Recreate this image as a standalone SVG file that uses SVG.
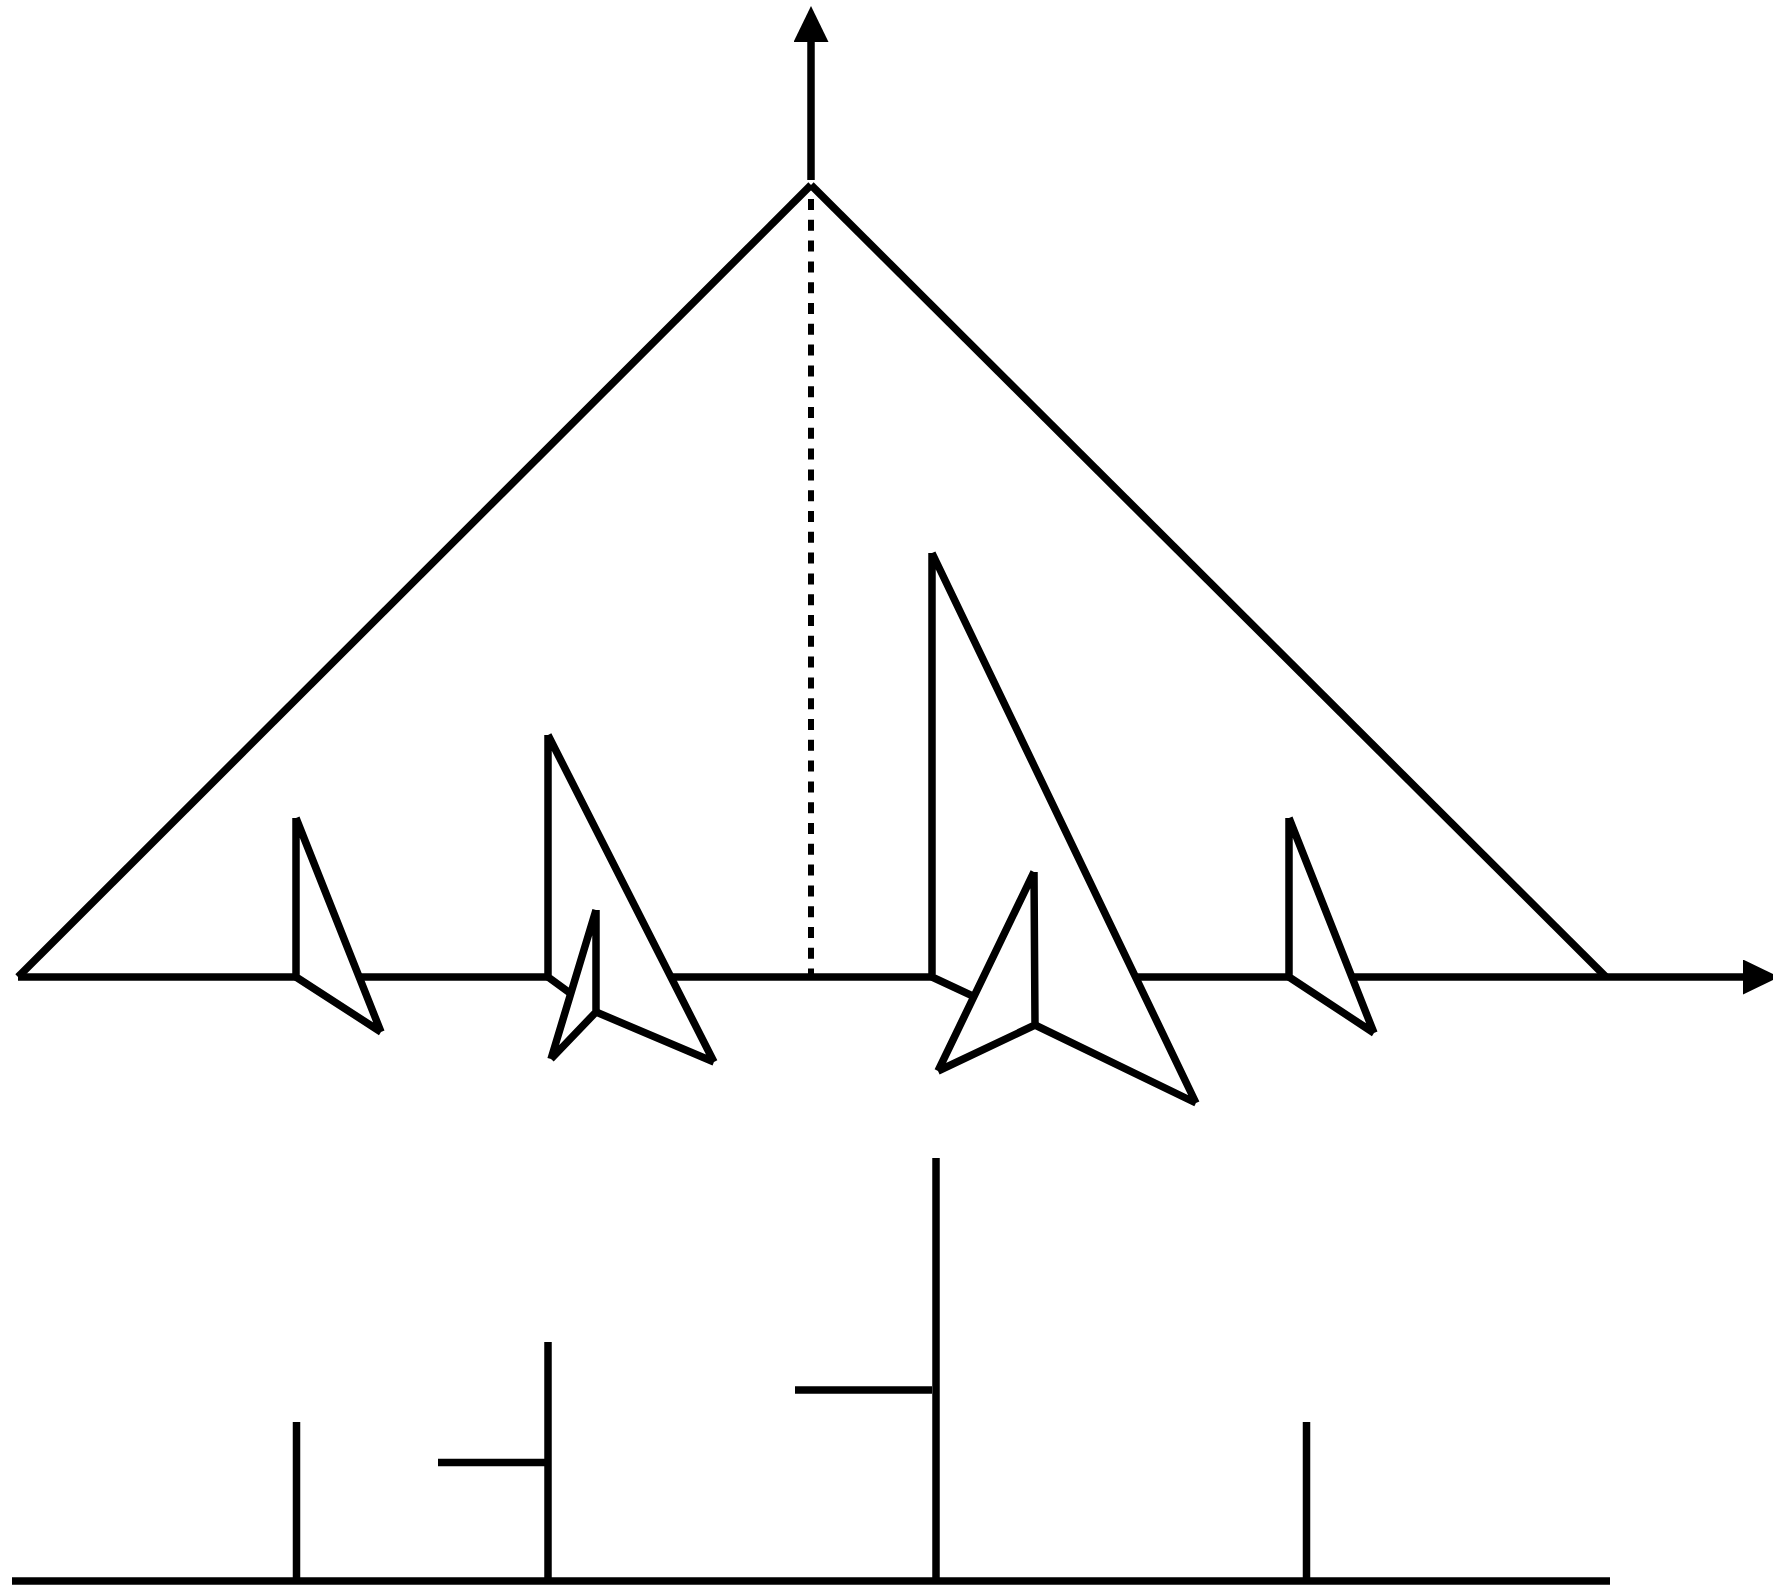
<svg xmlns="http://www.w3.org/2000/svg" width="1773" height="1586" viewBox="0 0 1773 1586">
  <style>
    .ln { stroke: #000; stroke-width: 7.5; fill: none; stroke-linecap: butt; stroke-linejoin: miter; }
    .fill { fill: #fff; stroke: none; }
    .dash { stroke: #000; stroke-width: 6; fill: none; stroke-dasharray: 11 9.8; }
  </style>
  <defs>
    <marker id="arrow" viewBox="0 0 36 35" refX="0" refY="17.5" markerWidth="36" markerHeight="35" markerUnits="userSpaceOnUse" orient="auto">
      <path d="M0,0 L36,17.5 L0,35 Z" fill="#000"/>
    </marker>
  </defs>
  <rect x="0" y="0" width="1773" height="1586" fill="#fff"/>

  <g id="connectors">
    <line id="y-axis" class="ln" x1="811" y1="180" x2="811" y2="42" marker-end="url(#arrow)"/>
    <line id="x-axis" class="ln" x1="18" y1="977" x2="1743" y2="977" marker-end="url(#arrow)"/>
    <line id="dashed-center" class="dash" x1="811" y1="199" x2="811" y2="976"/>
  </g>

  <g id="main-triangle">
    <line class="ln" x1="18" y1="977" x2="811" y2="185"/>
    <line class="ln" x1="811" y1="185" x2="1606" y2="977"/>
  </g>

  <g id="sail-1">
    <polygon class="fill" points="296,818 296,977 381,1032"/>
    <path class="ln" d="M296,818 L296,977 M296,818 L381,1032 M296,977 L381,1032"/>
  </g>

  <g id="sail-2-large">
    <polygon class="fill" points="548,735 548,977 596,1012 714,1062"/>
    <path class="ln" d="M548,735 L548,977 M548,735 L714,1062 M548,977 L596,1012 L714,1062"/>
  </g>
  <g id="sail-2-small">
    <polygon class="fill" points="596,910 596,1012 551,1059"/>
    <path class="ln" d="M596,910 L596,1012 M596,910 L551,1059 M551,1059 L596,1012"/>
  </g>

  <g id="sail-3-large">
    <polygon class="fill" points="932,553 932,977 1035,1025 1196,1103"/>
    <path class="ln" d="M932,553 L932,977 M932,553 L1196,1103 M932,977 L1035,1025 L1196,1103"/>
  </g>
  <g id="sail-3-small">
    <polygon class="fill" points="1034,872 1035,1025 938,1071"/>
    <path class="ln" d="M1034,872 L1035,1025 M1034,872 L938,1071 M938,1071 L1035,1025"/>
  </g>

  <g id="sail-4">
    <polygon class="fill" points="1289,818 1289,977 1374,1033"/>
    <path class="ln" d="M1289,818 L1289,977 M1289,818 L1374,1033 M1289,977 L1374,1033"/>
  </g>

  <g id="bottom-chart">
    <line class="ln" x1="12" y1="1581" x2="1610" y2="1581"/>
    <line class="ln" x1="296.5" y1="1422" x2="296.5" y2="1581"/>
    <line class="ln" x1="548" y1="1342" x2="548" y2="1581"/>
    <line class="ln" x1="936" y1="1158" x2="936" y2="1581"/>
    <line class="ln" x1="1306.5" y1="1422" x2="1306.5" y2="1581"/>
    <line class="ln" x1="438" y1="1462.5" x2="545" y2="1462.5"/>
    <line class="ln" x1="795" y1="1390" x2="932" y2="1390"/>
  </g>
</svg>
